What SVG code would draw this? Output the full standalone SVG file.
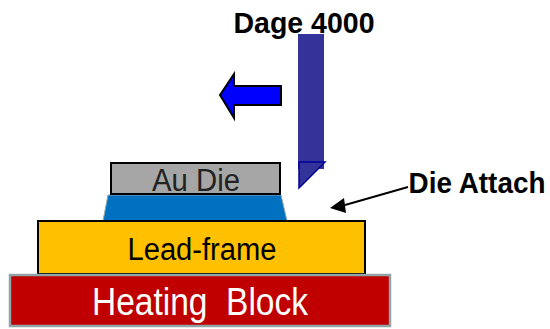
<svg xmlns="http://www.w3.org/2000/svg" width="550" height="329" viewBox="0 0 550 329">
<style>
text{font-family:"Liberation Sans",Arial,sans-serif;text-anchor:middle}
.b{font-weight:bold;fill:#000}
.k{stroke:#000;stroke-width:2}
</style>
<rect width="550" height="329" fill="#fff"/>
<g id="dage"><text class="b" x="304" y="33" font-size="30" textLength="141" lengthAdjust="spacingAndGlyphs">Dage 4000</text><rect x="298" y="34" width="26" height="135" fill="#333399"/><path d="M299 162H325L299 188Z" fill="#333399" stroke="#000099" stroke-width="1.5"/></g>
<g id="arrow-left"><path d="M281 86V105H234V118L220 95L234 74V86Z" fill="#0000ff" stroke="#000" stroke-width="2"/></g>
<g id="die-attach"><path d="M108 195H281L287 221H103Z" fill="#0070c0" stroke="#8fa5ad" stroke-width="1"/></g>
<g id="au-die"><rect x="111" y="163" width="169" height="31" fill="#a6a6a6" class="k"/><text x="196" y="191" font-size="31" fill="#222" textLength="88" lengthAdjust="spacingAndGlyphs">Au Die</text></g>
<g id="lead-frame"><rect x="38" y="221" width="327" height="53" fill="#ffc000" class="k"/><text x="202" y="260" font-size="31" fill="#000" textLength="149" lengthAdjust="spacingAndGlyphs">Lead-frame</text></g>
<g id="heating-block"><rect x="10" y="275" width="380" height="51" fill="#c00000" stroke="#8fa5a8" stroke-width="2.5"/><text x="200" y="315" font-size="38" fill="#fff" xml:space="preserve" textLength="216" lengthAdjust="spacingAndGlyphs">Heating  Block</text></g>
<g id="connectors"><line x1="408" y1="187" x2="345" y2="205" stroke="#000" stroke-width="2"/><path d="M330 208L344 198L346 213Z" fill="#000"/></g>
<g id="die-attach-label"><text class="b" x="0" y="0" font-size="30" transform="translate(477 193) scale(.93 1)">Die Attach</text></g>
</svg>
